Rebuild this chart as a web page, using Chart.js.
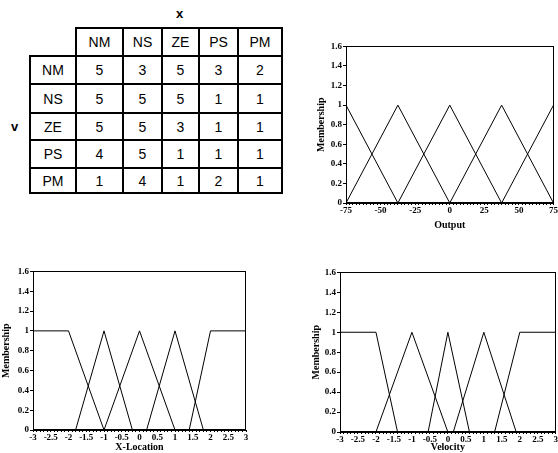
<!DOCTYPE html>
<html>
<head>
<meta charset="utf-8">
<script src="https://cdn.jsdelivr.net/npm/chart.js@4"></script>
<style>
  body { margin: 0; width: 558px; height: 453px; background: #fff; position: relative; overflow: hidden; }
  .box { position: absolute; }
  canvas { display: block; }
  table { border-collapse: collapse; font-family: "Liberation Sans", Arial, sans-serif; font-size: 14px; color: #000; }
  td { border: 2px solid #000; text-align: center; padding: 0; }
  td.blank { border-top: none; border-left: none; }
  .lbl { position: absolute; font-family: "Liberation Sans", Arial, sans-serif; font-size: 13px; font-weight: bold; color: #000; }
</style>
</head>
<body>
<div class="lbl" style="left:176px; top:6px;">x</div>
<div class="lbl" style="left:11px; top:119px;">v</div>
<div class="box" style="left:29px; top:27px;"><table id="rules"></table></div>

<div class="box" style="left:315px; top:40px; width:243px; height:191px;"><canvas id="outChart"></canvas></div>
<div class="box" style="left:0px; top:265px; width:252px; height:188px;"><canvas id="xChart"></canvas></div>
<div class="box" style="left:310px; top:266px; width:248px; height:187px;"><canvas id="vChart"></canvas></div>

<script>
// 规则表
const setNames = ['NM', 'NS', 'ZE', 'PS', 'PM'];
const ruleValues = [
    [5, 3, 5, 3, 2],
    [5, 5, 5, 1, 1],
    [5, 5, 3, 1, 1],
    [4, 5, 1, 1, 1],
    [1, 4, 1, 2, 1]
];
const colWidths = [45, 45, 37, 35, 37, 42];
const rowHeights = [28, 28, 29, 27, 28, 25];

// 输出隶属函数
const outNM = [[-75, 1], [-37.5, 0]];
const outNS = [[-75, 0], [-37.5, 1], [0, 0]];
const outZE = [[-37.5, 0], [0, 1], [37.5, 0]];
const outPS = [[0, 0], [37.5, 1], [75, 0]];
const outPM = [[37.5, 0], [75, 1]];

// X-Location 隶属函数
const locNM = [[-3, 1], [-2, 1], [-1, 0]];
const locNS = [[-1.8, 0], [-1, 1], [-0.2, 0]];
const locZE = [[-1, 0], [0, 1], [1, 0]];
const locPS = [[0.2, 0], [1, 1], [1.8, 0]];
const locPM = [[1.4, 0], [2, 1], [3, 1]];

// Velocity 隶属函数
const velNM = [[-3, 1], [-2, 1], [-1.4, 0]];
const velNS = [[-2, 0], [-1, 1], [0, 0]];
const velZE = [[-0.55, 0], [0, 1], [0.6, 0]];
const velPS = [[0.15, 0], [1, 1], [1.9, 0]];
const velPM = [[1.3, 0], [2, 1], [3, 1]];

const outTicks = [-75, -50, -25, 0, 25, 50, 75];
const locTicks = [-3, -2.5, -2, -1.5, -1, -0.5, 0, 0.5, 1, 1.5, 2, 2.5, 3];

// 建表
const table = document.getElementById('rules');
const head = table.insertRow();
head.style.height = rowHeights[0] + 'px';
const blank = head.insertCell();
blank.className = 'blank';
blank.style.width = colWidths[0] + 'px';
setNames.forEach((n, i) => {
    const c = head.insertCell();
    c.textContent = n;
    c.style.width = colWidths[i + 1] + 'px';
});
ruleValues.forEach((row, r) => {
    const tr = table.insertRow();
    tr.style.height = rowHeights[r + 1] + 'px';
    tr.insertCell().textContent = setNames[r];
    row.forEach(v => { tr.insertCell().textContent = v; });
});

// 边框插件
const frame = {
    id: 'frame',
    afterDraw(chart) {
        const a = chart.chartArea, ctx = chart.ctx;
        ctx.save();
        ctx.strokeStyle = '#000';
        ctx.lineWidth = 1;
        ctx.strokeRect(Math.round(a.left) + 0.5, Math.round(a.top) + 0.5,
            Math.round(a.right - a.left) - 1, Math.round(a.bottom - a.top) - 1);
        ctx.restore();
    }
};

const tickFont = { family: '"Liberation Serif", "DejaVu Serif", serif', size: 9, weight: 'bold' };
const titleFont = { family: '"Liberation Serif", "DejaVu Serif", serif', size: 10, weight: 'bold' };

function makeChart(id, sets, xMin, xMax, step, majors, title, yWidth, xHeight, pad) {
    new Chart(document.getElementById(id), {
        type: 'scatter',
        data: {
            datasets: sets.map(s => ({
                data: s.map(p => ({ x: p[0], y: p[1] })),
                showLine: true,
                borderColor: '#000',
                borderWidth: 1,
                pointRadius: 0,
                tension: 0
            }))
        },
        options: {
            responsive: true,
            maintainAspectRatio: false,
            animation: false,
            layout: { padding: pad },
            plugins: { legend: { display: false }, tooltip: { enabled: false } },
            scales: {
                x: {
                    type: 'linear',
                    min: xMin,
                    max: xMax,
                    afterBuildTicks: scale => {
                        const t = [];
                        const n = Math.round((xMax - xMin) / step);
                        for (let i = 0; i <= n; i++) t.push({ value: xMin + i * step });
                        scale.ticks = t;
                    },
                    afterFit: scale => { scale.height = xHeight; },
                    ticks: {
                        autoSkip: false,
                        maxRotation: 0,
                        padding: 0,
                        color: '#000',
                        font: tickFont,
                        callback: v => {
                            const m = majors.find(k => Math.abs(k - v) < 1e-6);
                            return m === undefined ? '' : String(m);
                        }
                    },
                    grid: { drawOnChartArea: false, color: '#000', tickLength: 2 },
                    border: { color: '#000' },
                    title: { display: true, text: title, color: '#000', font: titleFont, padding: 0 }
                },
                y: {
                    min: 0,
                    max: 1.6,
                    afterFit: scale => { scale.width = yWidth; },
                    ticks: {
                        stepSize: 0.2,
                        padding: 1,
                        color: '#000',
                        font: tickFont,
                        callback: v => String(Math.round(v * 10) / 10)
                    },
                    grid: { drawOnChartArea: false, color: '#000', tickLength: 3 },
                    border: { color: '#000' },
                    title: { display: true, text: 'Membership', color: '#000', font: titleFont, padding: 0 }
                }
            }
        },
        plugins: [frame]
    });
}

makeChart('outChart', [outNM, outNS, outZE, outPS, outPM], -75, 75, 2.5, outTicks,
    'Output', 31, 28, { top: 6, right: 2, left: 0, bottom: 0 });
makeChart('xChart', [locNM, locNS, locZE, locPS, locPM], -3, 3, 0.1, locTicks,
    'X-Location', 33, 23, { top: 6, right: 6, left: 0, bottom: 0 });
makeChart('vChart', [velNM, velNS, velZE, velPS, velPM], -3, 3, 0.1, locTicks,
    'Velocity', 30, 21, { top: 6, right: 2, left: 0, bottom: 0 });
</script>
</body>
</html>
